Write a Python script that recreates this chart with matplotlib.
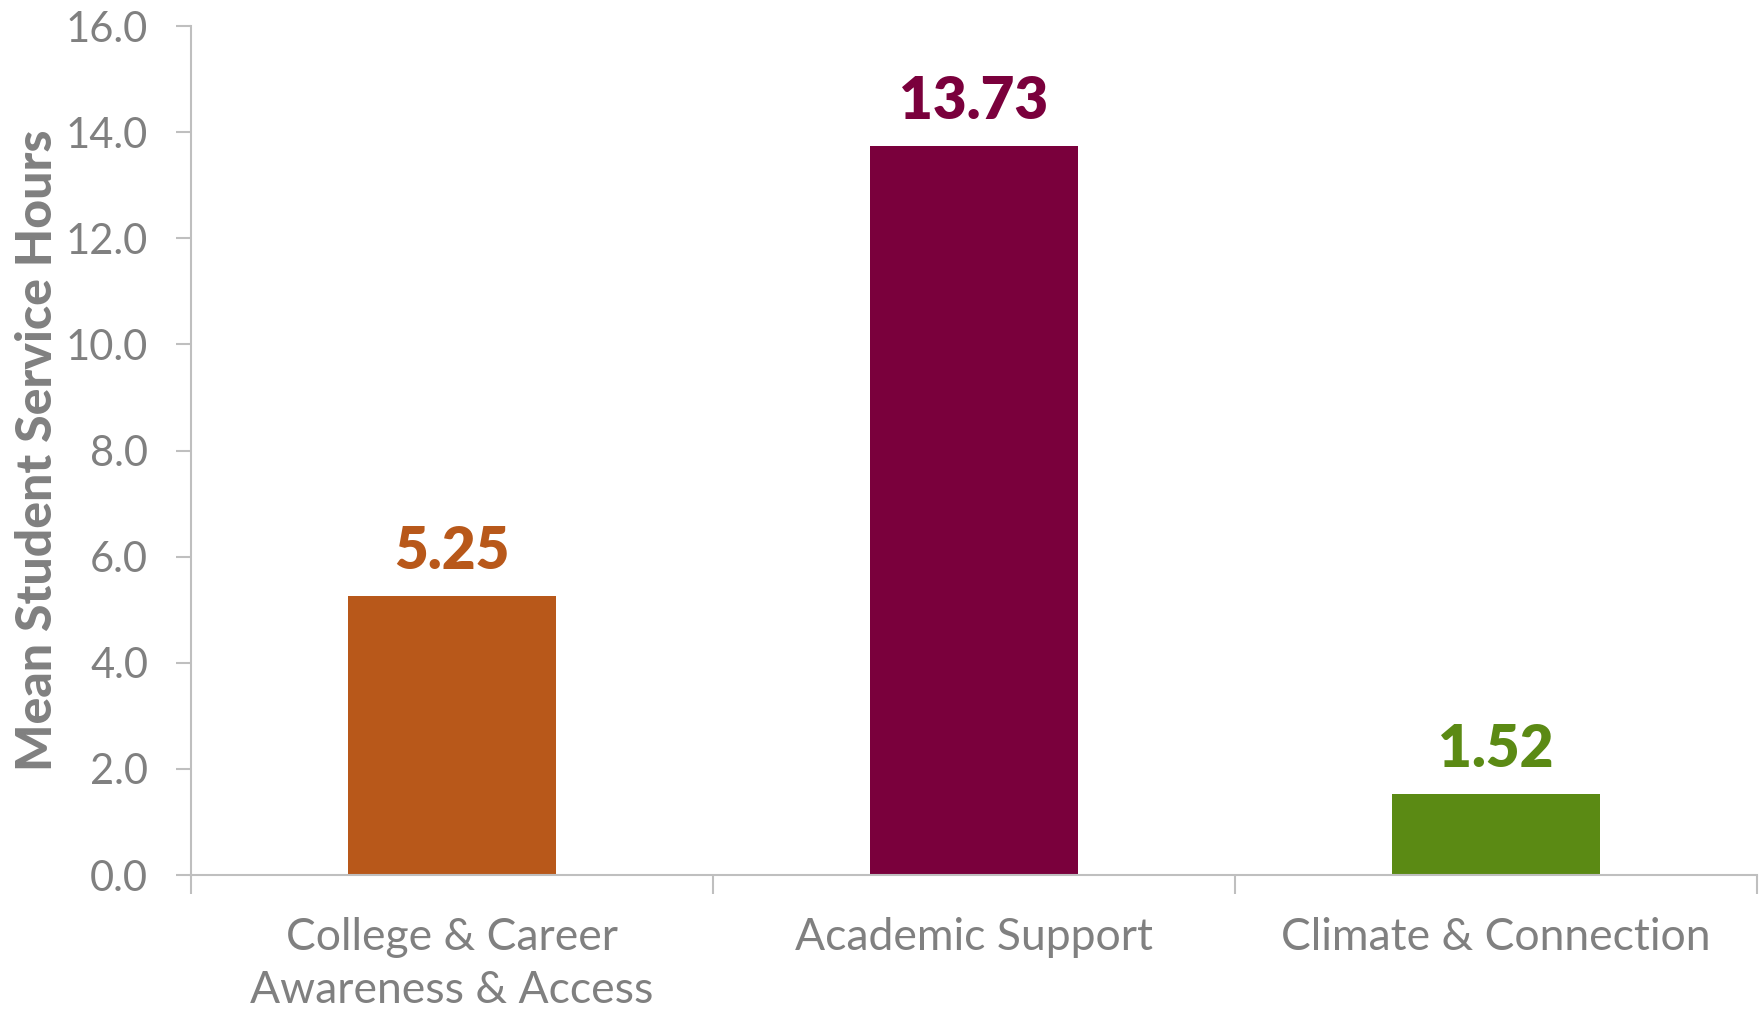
import matplotlib
matplotlib.use("Agg")
import matplotlib.pyplot as plt
from matplotlib.ticker import FixedLocator

categories = ["College & Career\nAwareness & Access", "Academic Support", "Climate & Connection"]
hours = [5.25, 13.73, 1.52]
bar_colors = ["#B8581A", "#7A003C", "#5B8A14"]
y_ticks = [0, 2, 4, 6, 8, 10, 12, 14, 16]

gray = "#808080"
spine = "#BFBFBF"
plt.rcParams["font.family"] = ["Lato", "DejaVu Sans"]

fig = plt.figure(figsize=(17.64, 10.13), dpi=100)
ax = fig.add_axes([0.1083, 0.1362, 0.8877, 0.8381])

x = range(len(categories))
ax.bar(x, hours, width=0.4, color=bar_colors, zorder=2)

for xi, v, c in zip(x, hours, bar_colors):
    ax.annotate(f"{v:.2f}", xy=(xi, v), xytext=(0, 13), textcoords="offset points",
                ha="center", va="bottom", fontsize=42, fontweight="heavy", color=c)

ax.set_xlim(-0.5, 2.5)
ax.set_ylim(0, 16)
ax.set_yticks(y_ticks)
ax.set_yticklabels([f"{t:.1f}" for t in y_ticks])
ax.set_xticks(list(x))
ax.set_xticklabels(categories, linespacing=1.38, va="top")
ax.xaxis.set_minor_locator(FixedLocator([-0.5, 0.5, 1.5, 2.5]))

ax.tick_params(axis="y", labelsize=30, colors=spine, labelcolor=gray, length=11, width=1.5, pad=20)
ax.tick_params(axis="x", which="major", length=0, labelsize=32, labelcolor=gray, pad=30)
ax.tick_params(axis="x", which="minor", length=14, width=1.5, color=spine)

for s in ["top", "right"]:
    ax.spines[s].set_visible(False)
for s in ["left", "bottom"]:
    ax.spines[s].set_color(spine)
    ax.spines[s].set_linewidth(1.5)

ax.set_ylabel("Mean Student Service Hours", fontsize=36, fontweight="black", color=gray, labelpad=4)

fig.savefig("out.png", dpi=100, facecolor="white")
